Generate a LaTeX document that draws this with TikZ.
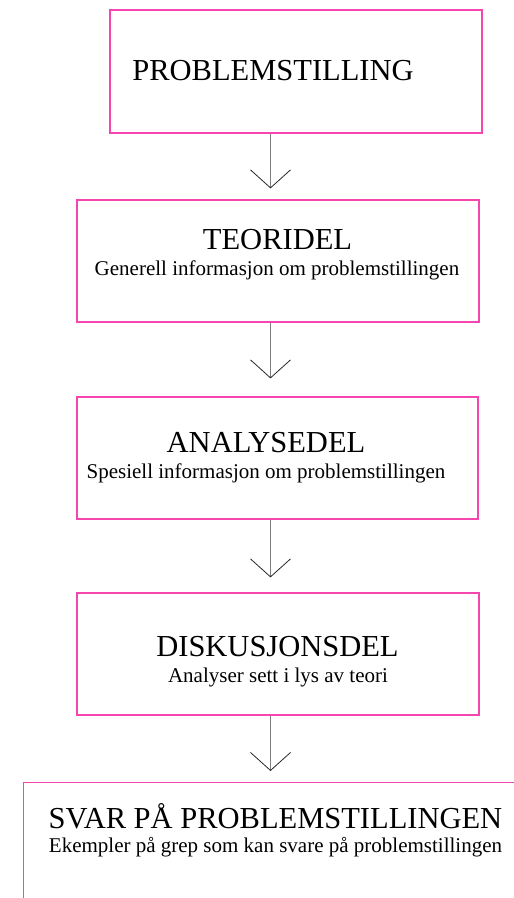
\documentclass[tikz,border=0pt]{standalone}
\usepackage{fontspec}
\setmainfont{Liberation Serif}
\usetikzlibrary{arrows.meta}
\definecolor{boxpink}{RGB}{245,70,175}
\definecolor{shaftgray}{RGB}{125,125,125}
\tikzset{
  partbox/.style={rectangle, draw=boxpink, line width=1.2pt, inner sep=0pt},
  headtext/.style={font=\fontsize{30.5}{30.5}\selectfont, inner sep=0pt, anchor=base},
  subtext/.style={font=\fontsize{21}{21}\selectfont, inner sep=0pt, anchor=base},
  downarrow/.style={draw=shaftgray, line width=1.4pt,
    -{Straight Barb[length=18pt, width=40pt, line width=0.8pt, color=black!85]}}
}
\begin{document}
\begin{tikzpicture}[x=1pt, y=-1pt]
  \useasboundingbox (0,0) rectangle (514,898);
  \clip (0,0) rectangle (514,898);
  \coordinate (ax) at (270.5,0);
  % the five parts
  \node[partbox, minimum width=372pt, minimum height=123pt] at (296,71.5) (b1) {};
  \node[partbox, minimum width=402pt, minimum height=122pt] at (278,261) (b2) {};
  \node[partbox, minimum width=401pt, minimum height=122pt] at (277.5,458) (b3) {};
  \node[partbox, minimum width=402pt, minimum height=122pt] at (278,654) (b4) {};
  \node[partbox, minimum width=540pt, minimum height=140pt, anchor=north west] at (23,782) (b5) {};
  % texts
  \node[headtext] at (273,80) (t1) {PROBLEMSTILLING};
  \node[headtext] at (277.5,249) (t2) {TEORIDEL};
  \node[subtext] at (277,275) (s2) {Generell informasjon om problemstillingen};
  \node[headtext] at (266,452) (t3) {ANALYSEDEL};
  \node[subtext] at (266,478) (s3) {Spesiell informasjon om problemstillingen};
  \node[headtext] at (277.5,656) (t4) {DISKUSJONSDEL};
  \node[subtext] at (278,682) (s4) {Analyser sett i lys av teori};
  \node[headtext] at (275.5,828) (t5) {SVAR PÅ PROBLEMSTILLINGEN};
  \node[subtext] at (275.5,852) (s5) {Ekempler på grep som kan svare på problemstillingen};
  % arrows
  \foreach \a/\b/\g in {b1/b2/11, b2/b3/18, b3/b4/15, b4/b5/11}{
    \draw[downarrow, shorten >=\g pt] (\a.south -| ax) -- (\b.north -| ax);
  }
\end{tikzpicture}
\end{document}
